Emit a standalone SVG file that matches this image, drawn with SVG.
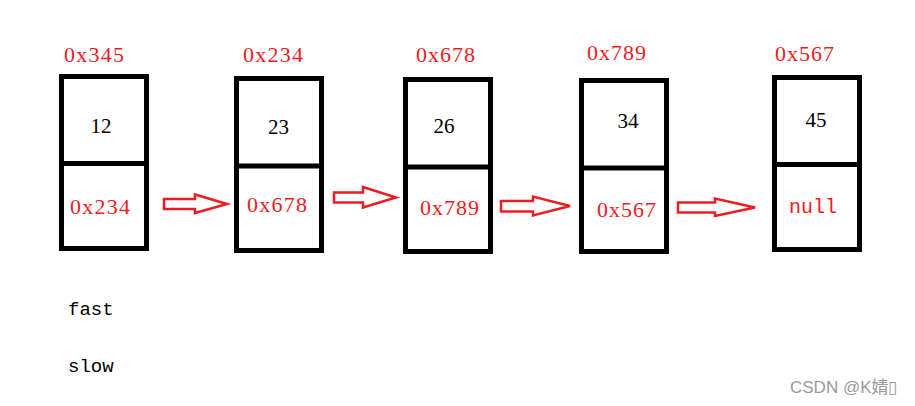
<svg xmlns="http://www.w3.org/2000/svg" width="915" height="406" viewBox="0 0 915 406">
<style>
.box{fill:#fff;stroke:#000;stroke-width:5}
.div{stroke:#000;stroke-width:5}
.addr{font-family:"Liberation Serif","DejaVu Serif",serif;font-size:22px;fill:#ED1C24}
.mono{font-family:"Liberation Mono","DejaVu Sans Mono",monospace;font-size:20px;fill:#ED1C24}
.val{font-family:"Liberation Serif","DejaVu Serif",serif;font-size:21px;fill:#000;text-anchor:middle}
.lbl{font-family:"Liberation Mono","DejaVu Sans Mono",monospace;font-size:19px;fill:#000}
.arr{fill:#fff;stroke:#ED1C24;stroke-width:2.5;stroke-linejoin:miter}
.wm{font-family:"Liberation Sans","Noto Sans CJK SC",sans-serif;font-size:17px;fill:#999}
</style>
<rect width="915" height="406" fill="#fff"/>
<g id="node1">
<rect class="box" x="61.5" y="76.5" width="85" height="172"/>
<line class="div" x1="61" y1="163.5" x2="147" y2="163.5"/>
<text class="addr" x="64" y="62" textLength="60" lengthAdjust="spacing">0x345</text>
<text class="val" x="101" y="133">12</text>
<text class="addr" x="70" y="214" textLength="60" lengthAdjust="spacing">0x234</text>
</g>
<g id="node2">
<rect class="box" x="236.5" y="78.5" width="85" height="172"/>
<line class="div" x1="236" y1="166" x2="322" y2="166"/>
<text class="addr" x="243" y="62" textLength="60" lengthAdjust="spacing">0x234</text>
<text class="val" x="278.5" y="134">23</text>
<text class="addr" x="247" y="212" textLength="60" lengthAdjust="spacing">0x678</text>
</g>
<g id="node3">
<rect class="box" x="405.5" y="79.5" width="85" height="172"/>
<line class="div" x1="405" y1="167" x2="491" y2="167"/>
<text class="addr" x="416" y="62" textLength="59" lengthAdjust="spacing">0x678</text>
<text class="val" x="444" y="133">26</text>
<text class="addr" x="420" y="215" textLength="59" lengthAdjust="spacing">0x789</text>
</g>
<g id="node4">
<rect class="box" x="581.5" y="80.5" width="85" height="171"/>
<line class="div" x1="581" y1="168" x2="667" y2="168"/>
<text class="addr" x="587" y="60" textLength="59" lengthAdjust="spacing">0x789</text>
<text class="val" x="628" y="128">34</text>
<text class="addr" x="597" y="217" textLength="59" lengthAdjust="spacing">0x567</text>
</g>
<g id="node5">
<rect class="box" x="774.5" y="77.5" width="85" height="172"/>
<line class="div" x1="774" y1="164.5" x2="860" y2="164.5"/>
<text class="addr" x="775" y="61" textLength="59" lengthAdjust="spacing">0x567</text>
<text class="val" x="816" y="127">45</text>
<text class="mono" x="789" y="213">null</text>
</g>
<g id="connectors">
<polygon class="arr" points="164,199 195,199 195,194.5 227,204 195,213 195,209 164,209"/>
<polygon class="arr" points="334,192.5 363,192.5 363,187 396,197.5 363,207.5 363,202.5 334,202.5"/>
<polygon class="arr" points="501,201 533,201 533,196.5 570,206 533,215.5 533,211.5 501,211.5"/>
<polygon class="arr" points="678,202.5 715,202.5 715,198.5 755,207.5 715,216 715,212.5 678,212.5"/>
</g>
<text class="lbl" x="68" y="315">fast</text>
<text class="lbl" x="68" y="372">slow</text>
<text class="wm" x="790" y="393">CSDN @K婧▯</text>
</svg>
